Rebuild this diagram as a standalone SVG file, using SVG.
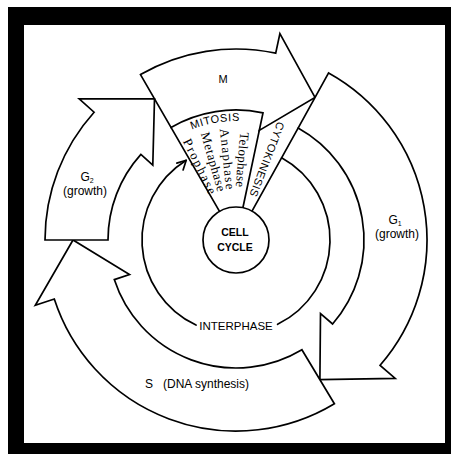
<svg xmlns="http://www.w3.org/2000/svg" width="451" height="454" viewBox="0 0 451 454">
<style>
.ln{fill:none;stroke:#000;stroke-width:1.7;stroke-linecap:round;stroke-linejoin:round}
.sh{fill:#fff;stroke:#000;stroke-width:1.7;stroke-linejoin:miter}
.t{font-family:"Liberation Sans",Arial,sans-serif;fill:#000}
.s{font-family:"Liberation Serif","Times New Roman",serif;fill:#000}
</style>
<defs>
<path id="mitArc" d="M159.5,148.8 A119,119 0 0 1 276.7,128.2"/>
</defs>
<rect width="451" height="454" fill="#fff"/>
<path d="M8,7H451V454H8Z M24,25V443H445V25Z" fill="#000" fill-rule="evenodd"/>

<g id="M">
<path class="sh" d="M140.5,74.6 A191,191 0 0 1 275.7,53.2 L279.9,33.6 L315,97.4 L259.3,130.4 L263,112.8 A130,130 0 0 0 171,127.4 Z"/>
<text class="t" x="223" y="83" font-size="11" text-anchor="middle">M</text>
</g>
<g id="G1">
<path class="sh" d="M328.6,72.9 A191,191 0 0 1 380.1,365.3 L395.2,378.4 L319.9,379.7 L320.5,313.5 L332.6,324 A128,128 0 0 0 298.1,128.1 Z"/>
<text class="t" x="395" y="224" font-size="12" text-anchor="middle">G<tspan font-size="7" dy="2">1</tspan></text>
<text class="t" x="397" y="238" font-size="12" text-anchor="middle">(growth)</text>
</g>
<g id="S">
<path class="sh" d="M334.4,403.7 A191,191 0 0 1 54.3,299 L35.3,305.2 L73,240 L129.5,274.6 L114.3,279.6 A128,128 0 0 0 301.9,349.7 Z"/>
<text class="t" x="149" y="388" font-size="12" text-anchor="middle">S</text>
<text class="t" x="163" y="388" font-size="12">(DNA synthesis)</text>
</g>
<g id="G2">
<path class="sh" d="M45,240 A191,191 0 0 1 94.1,112.2 L79.2,98.8 L154.5,98.8 L152.8,165.1 L140.9,154.4 A128,128 0 0 0 108,240 Z"/>
<text class="t" x="87" y="181" font-size="12" text-anchor="middle">G<tspan font-size="7" dy="2">2</tspan></text>
<text class="t" x="85" y="195" font-size="12" text-anchor="middle">(growth)</text>
</g>

<g id="mitosis">
<path class="ln" d="M219.5,211.4 L171,127.4 M242.9,207.7 L259.3,130.4"/>
<text class="t" font-size="11" letter-spacing="0.6"><textPath href="#mitArc" startOffset="50%" text-anchor="middle">MITOSIS</textPath></text>
<text class="s" font-size="13" transform="translate(186.9,139.3) rotate(64)" dy="0.35em" textLength="60" lengthAdjust="spacing">Prophase</text>
<text class="s" font-size="13" transform="translate(205.1,132.3) rotate(74)" dy="0.35em" textLength="61" lengthAdjust="spacing">Metaphase</text>
<text class="s" font-size="13" transform="translate(224.3,128.6) rotate(84)" dy="0.35em" textLength="61" lengthAdjust="spacing">Anaphase</text>
<text class="s" font-size="13" transform="translate(244.7,132.3) rotate(94.6)" dy="0.35em" textLength="55" lengthAdjust="spacing">Telophase</text>
</g>
<g id="cytokinesis">
<path class="ln" d="M252,211.1 L298.1,128.1"/>
<text class="t" font-size="11" transform="translate(281.2,122.4) rotate(111)" dy="0.35em" textLength="79" lengthAdjust="spacing">CYTOKINESIS</text>
</g>

<g id="connectors">
<path class="ln" d="M281.6,157.8 A94,94 0 0 1 277.6,324.3"/>
<path class="ln" d="M196,325.1 A94,94 0 0 1 186.2,160.3"/>
<path class="ln" d="M176.8,163.1 L186.2,160.3 L183.1,169.9"/>
</g>

<g id="interphase">
<text class="t" x="236" y="330" font-size="11.5" text-anchor="middle">INTERPHASE</text>
</g>

<g id="cell-cycle">
<circle class="sh" cx="236" cy="240" r="33"/>
<text class="t" x="235" y="236" font-size="10.5" font-weight="bold" text-anchor="middle">CELL</text>
<text class="t" x="235" y="251" font-size="10.5" font-weight="bold" text-anchor="middle">CYCLE</text>
</g>
</svg>
